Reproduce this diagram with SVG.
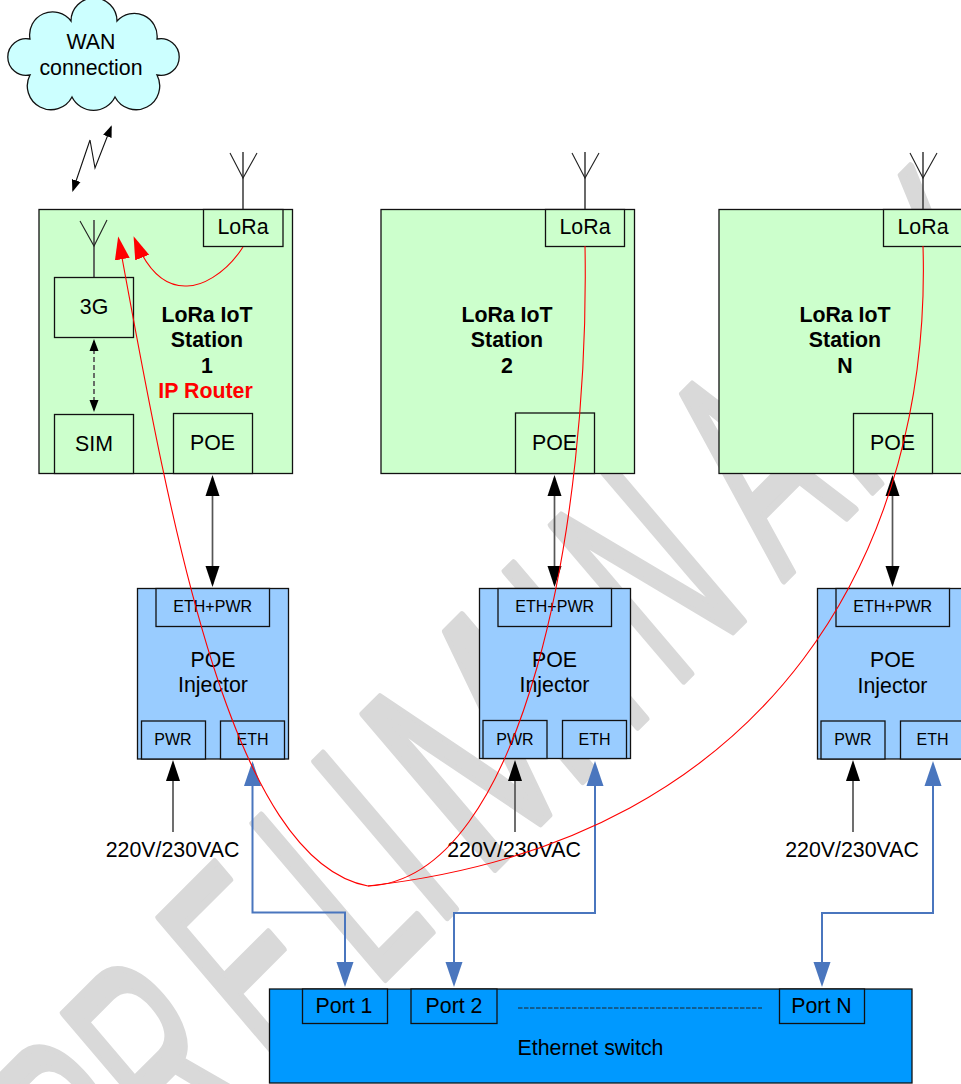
<svg xmlns="http://www.w3.org/2000/svg" width="961" height="1084" viewBox="0 0 961 1084">
<style>
text{font-family:"Liberation Sans",Arial,sans-serif;font-size:21.33px;fill:#000;text-anchor:middle}
.s{font-size:16px}
.b{font-weight:bold}
.r{fill:#f00}
rect,.cloud{stroke:#111;stroke-width:1.3}
.st{fill:#ccffcc}
.inj{fill:#99ccff}
.sw{fill:#0099ff}
.ant{fill:none;stroke:#222;stroke-width:1.1}
.antm{stroke:#444;stroke-width:1.6}
.bk{stroke:#555;stroke-width:1.7;fill:none}
.bl{stroke:#4a76be;stroke-width:2;fill:none}
.rd{stroke:#f00;stroke-width:1.1;fill:none}
#watermark text{font-size:295px;text-anchor:start;fill:#d9d9d9;stroke:#d9d9d9;stroke-width:6;stroke-linejoin:round;vector-effect:non-scaling-stroke}
</style>
<defs>
<marker id="ab" markerUnits="userSpaceOnUse" markerWidth="22" markerHeight="16" viewBox="0 0 22 16" refX="18" refY="8" orient="auto-start-reverse"><path d="M0,1 L21,8 L0,15Z" fill="#000"/></marker>
<marker id="as" markerUnits="userSpaceOnUse" markerWidth="13" markerHeight="10" viewBox="0 0 13 10" refX="10" refY="5" orient="auto-start-reverse"><path d="M0,0.5 L12,5 L0,9.5Z" fill="#000"/></marker>
<marker id="ai" markerUnits="userSpaceOnUse" markerWidth="26" markerHeight="18" viewBox="0 0 26 18" refX="22" refY="9" orient="auto-start-reverse"><path d="M0,0.5 L25,9 L0,17.5Z" fill="#4a76be"/></marker>
<marker id="ar" markerUnits="userSpaceOnUse" markerWidth="24" markerHeight="16" viewBox="0 0 24 16" refX="20" refY="8" orient="auto"><path d="M0,0.5 L23,8 L0,15.5Z" fill="#f00"/></marker>
</defs>

<g id="watermark">
<text transform="translate(682,682) rotate(-45) skewX(-4.6) scale(0.53,1)" x="-1523 -1325 -1070 -819 -657" y="0">PRELI</text>
<text transform="translate(682,682) rotate(-45) skewX(-4.6) scale(0.72,1)" x="-393" y="0">M</text>
<text transform="translate(682,682) rotate(-45) skewX(-4.6) scale(0.53,1)" x="-149 -23 268 481 775" y="0">INARY</text>
</g>

<g id="wan-cloud">
<path class="cloud" fill="#ccffff" d="M30,75 A18.400 18.400 0 1 1 30,39 A23 23 0 0 1 71,21 A23 23 0 0 1 117,21 A23 23 0 0 1 157,39 A18.400 18.400 0 1 1 157,75 A23 23 0 0 1 115,97 A24 24 0 0 1 72,97 A23 23 0 0 1 30,75Z"/>
<text x="91" y="49">WAN</text><text x="91" y="75">connection</text>
</g>

<g id="station-1">
<rect class="st" x="39" y="209.500" width="253.500" height="264"/>
<path class="antm" d="M243,152V209"/><path class="ant" d="M230,153L243,178L257,153"/>
<path class="antm" d="M94,220V277"/><path class="ant" d="M80,221L94,246L107,220"/>
<text class="b" x="207" y="322">LoRa IoT</text><text class="b" x="207" y="347">Station</text><text class="b" x="207" y="373">1</text><text class="b r" x="205.500" y="398">IP Router</text>
</g>
<g id="station-1-lora"><rect class="st" x="203.500" y="209.500" width="79.500" height="37"/><text x="243" y="234">LoRa</text></g>
<g id="station-1-3g"><rect class="st" x="54.500" y="277.500" width="79" height="60"/><text x="94" y="314">3G</text></g>
<g id="station-1-sim"><rect class="st" x="54.500" y="414.500" width="79" height="59"/><text x="94" y="451">SIM</text></g>
<g id="station-1-poe"><rect class="st" x="173.500" y="413.500" width="79" height="60"/><text x="212.500" y="450">POE</text></g>

<g id="station-2">
<rect class="st" x="381" y="209.500" width="253.500" height="264"/>
<path class="antm" d="M585,152V209"/><path class="ant" d="M572,153L585,178L599,153"/>
<text class="b" x="507" y="322">LoRa IoT</text><text class="b" x="507" y="347">Station</text><text class="b" x="507" y="373">2</text>
</g>
<g id="station-2-lora"><rect class="st" x="545.500" y="209.500" width="79" height="37"/><text x="585" y="234">LoRa</text></g>
<g id="station-2-poe"><rect class="st" x="515.500" y="413" width="79" height="60.500"/><text x="554.500" y="450">POE</text></g>

<g id="station-n">
<rect class="st" x="719" y="209.500" width="253.500" height="264"/>
<path class="antm" d="M923,152V209"/><path class="ant" d="M910,153L923,178L937,153"/>
<text class="b" x="845" y="322">LoRa IoT</text><text class="b" x="845" y="347">Station</text><text class="b" x="845" y="373">N</text>
</g>
<g id="station-n-lora"><rect class="st" x="883.500" y="209.500" width="79.500" height="37"/><text x="923" y="234">LoRa</text></g>
<g id="station-n-poe"><rect class="st" x="853.500" y="413.500" width="79" height="60"/><text x="892.500" y="450">POE</text></g>

<g id="injector-1">
<rect class="inj" x="137.500" y="588.500" width="151" height="170.500"/>
<text x="213" y="667">POE</text><text x="213" y="692">Injector</text>
<rect class="inj" x="156" y="588.500" width="113.500" height="38"/><text class="s" x="212.700" y="612">ETH+PWR</text>
<rect class="inj" x="141.500" y="721" width="64" height="38"/><text class="s" x="173" y="745">PWR</text>
<rect class="inj" x="220.500" y="721" width="64" height="38"/><text class="s" x="252.500" y="745">ETH</text>
</g>
<g id="injector-2">
<rect class="inj" x="479.500" y="588.500" width="151" height="170"/>
<text x="554.500" y="667">POE</text><text x="554.500" y="692">Injector</text>
<rect class="inj" x="498" y="588.500" width="113.500" height="38"/><text class="s" x="554.700" y="612">ETH+PWR</text>
<rect class="inj" x="483" y="720.500" width="64" height="38"/><text class="s" x="515" y="745">PWR</text>
<rect class="inj" x="562.500" y="720.500" width="64" height="38"/><text class="s" x="594.500" y="745">ETH</text>
</g>
<g id="injector-n">
<rect class="inj" x="817.500" y="588.500" width="151" height="170.500"/>
<text x="892.500" y="667">POE</text><text x="892.500" y="693">Injector</text>
<rect class="inj" x="836" y="588.500" width="113.500" height="38"/><text class="s" x="892.700" y="612">ETH+PWR</text>
<rect class="inj" x="821" y="721" width="64" height="38"/><text class="s" x="853" y="745">PWR</text>
<rect class="inj" x="900.500" y="721" width="64" height="38"/><text class="s" x="932.500" y="745">ETH</text>
</g>

<g id="switch">
<rect class="sw" x="269.500" y="989" width="642.500" height="94"/>
<path d="M518,1008H762" stroke="#222" stroke-width="1" stroke-dasharray="4.500 1.500" fill="none"/>
<text x="590.500" y="1055">Ethernet switch</text>
<rect class="sw" x="302.500" y="989" width="85" height="34.500"/><text x="344" y="1013">Port 1</text>
<rect class="sw" x="411" y="989" width="86" height="34.500"/><text x="454" y="1013">Port 2</text>
<rect class="sw" x="779.500" y="989" width="85" height="34.500"/><text x="821.500" y="1013">Port N</text>
</g>

<g id="labels">
<text x="172.500" y="857">220V/230VAC</text><text x="514" y="857">220V/230VAC</text><text x="852" y="857">220V/230VAC</text>
</g>

<g id="connectors">
<path d="M73,190L90,140L95,168L111,127" fill="none" stroke="#111" stroke-width="1.1" marker-start="url(#as)" marker-end="url(#as)"/>
<path class="bk" d="M94,341V410" stroke-dasharray="5 3" marker-start="url(#as)" marker-end="url(#as)"/>
<path class="bk" d="M212.500,478V584" marker-start="url(#ab)" marker-end="url(#ab)"/>
<path class="bk" d="M554.500,478V584" marker-start="url(#ab)" marker-end="url(#ab)"/>
<path class="bk" d="M892.500,478V584" marker-start="url(#ab)" marker-end="url(#ab)"/>
<path class="bk" d="M173,832V763" marker-end="url(#ab)"/>
<path class="bk" d="M515,832V763" marker-end="url(#ab)"/>
<path class="bk" d="M853,832V763" marker-end="url(#ab)"/>
<path class="bl" d="M252.500,764V912.500H345V984" marker-start="url(#ai)" marker-end="url(#ai)"/>
<path class="bl" d="M595,764V913H454V984" marker-start="url(#ai)" marker-end="url(#ai)"/>
<path class="bl" d="M933,764V913H822V984" marker-start="url(#ai)" marker-end="url(#ai)"/>
<path class="rd" d="M243,247C225,275 200,287 185,286C165,286 148,272 134.700,239" marker-end="url(#ar)"/>
<path class="rd" d="M585,246C590,520 525,880 368,886"/>
<path class="rd" d="M923,246C932,540 780,840 368,886"/>
<path class="rd" d="M368,886C230,860 170,520 118.700,239.500" marker-end="url(#ar)"/>
</g>
</svg>
